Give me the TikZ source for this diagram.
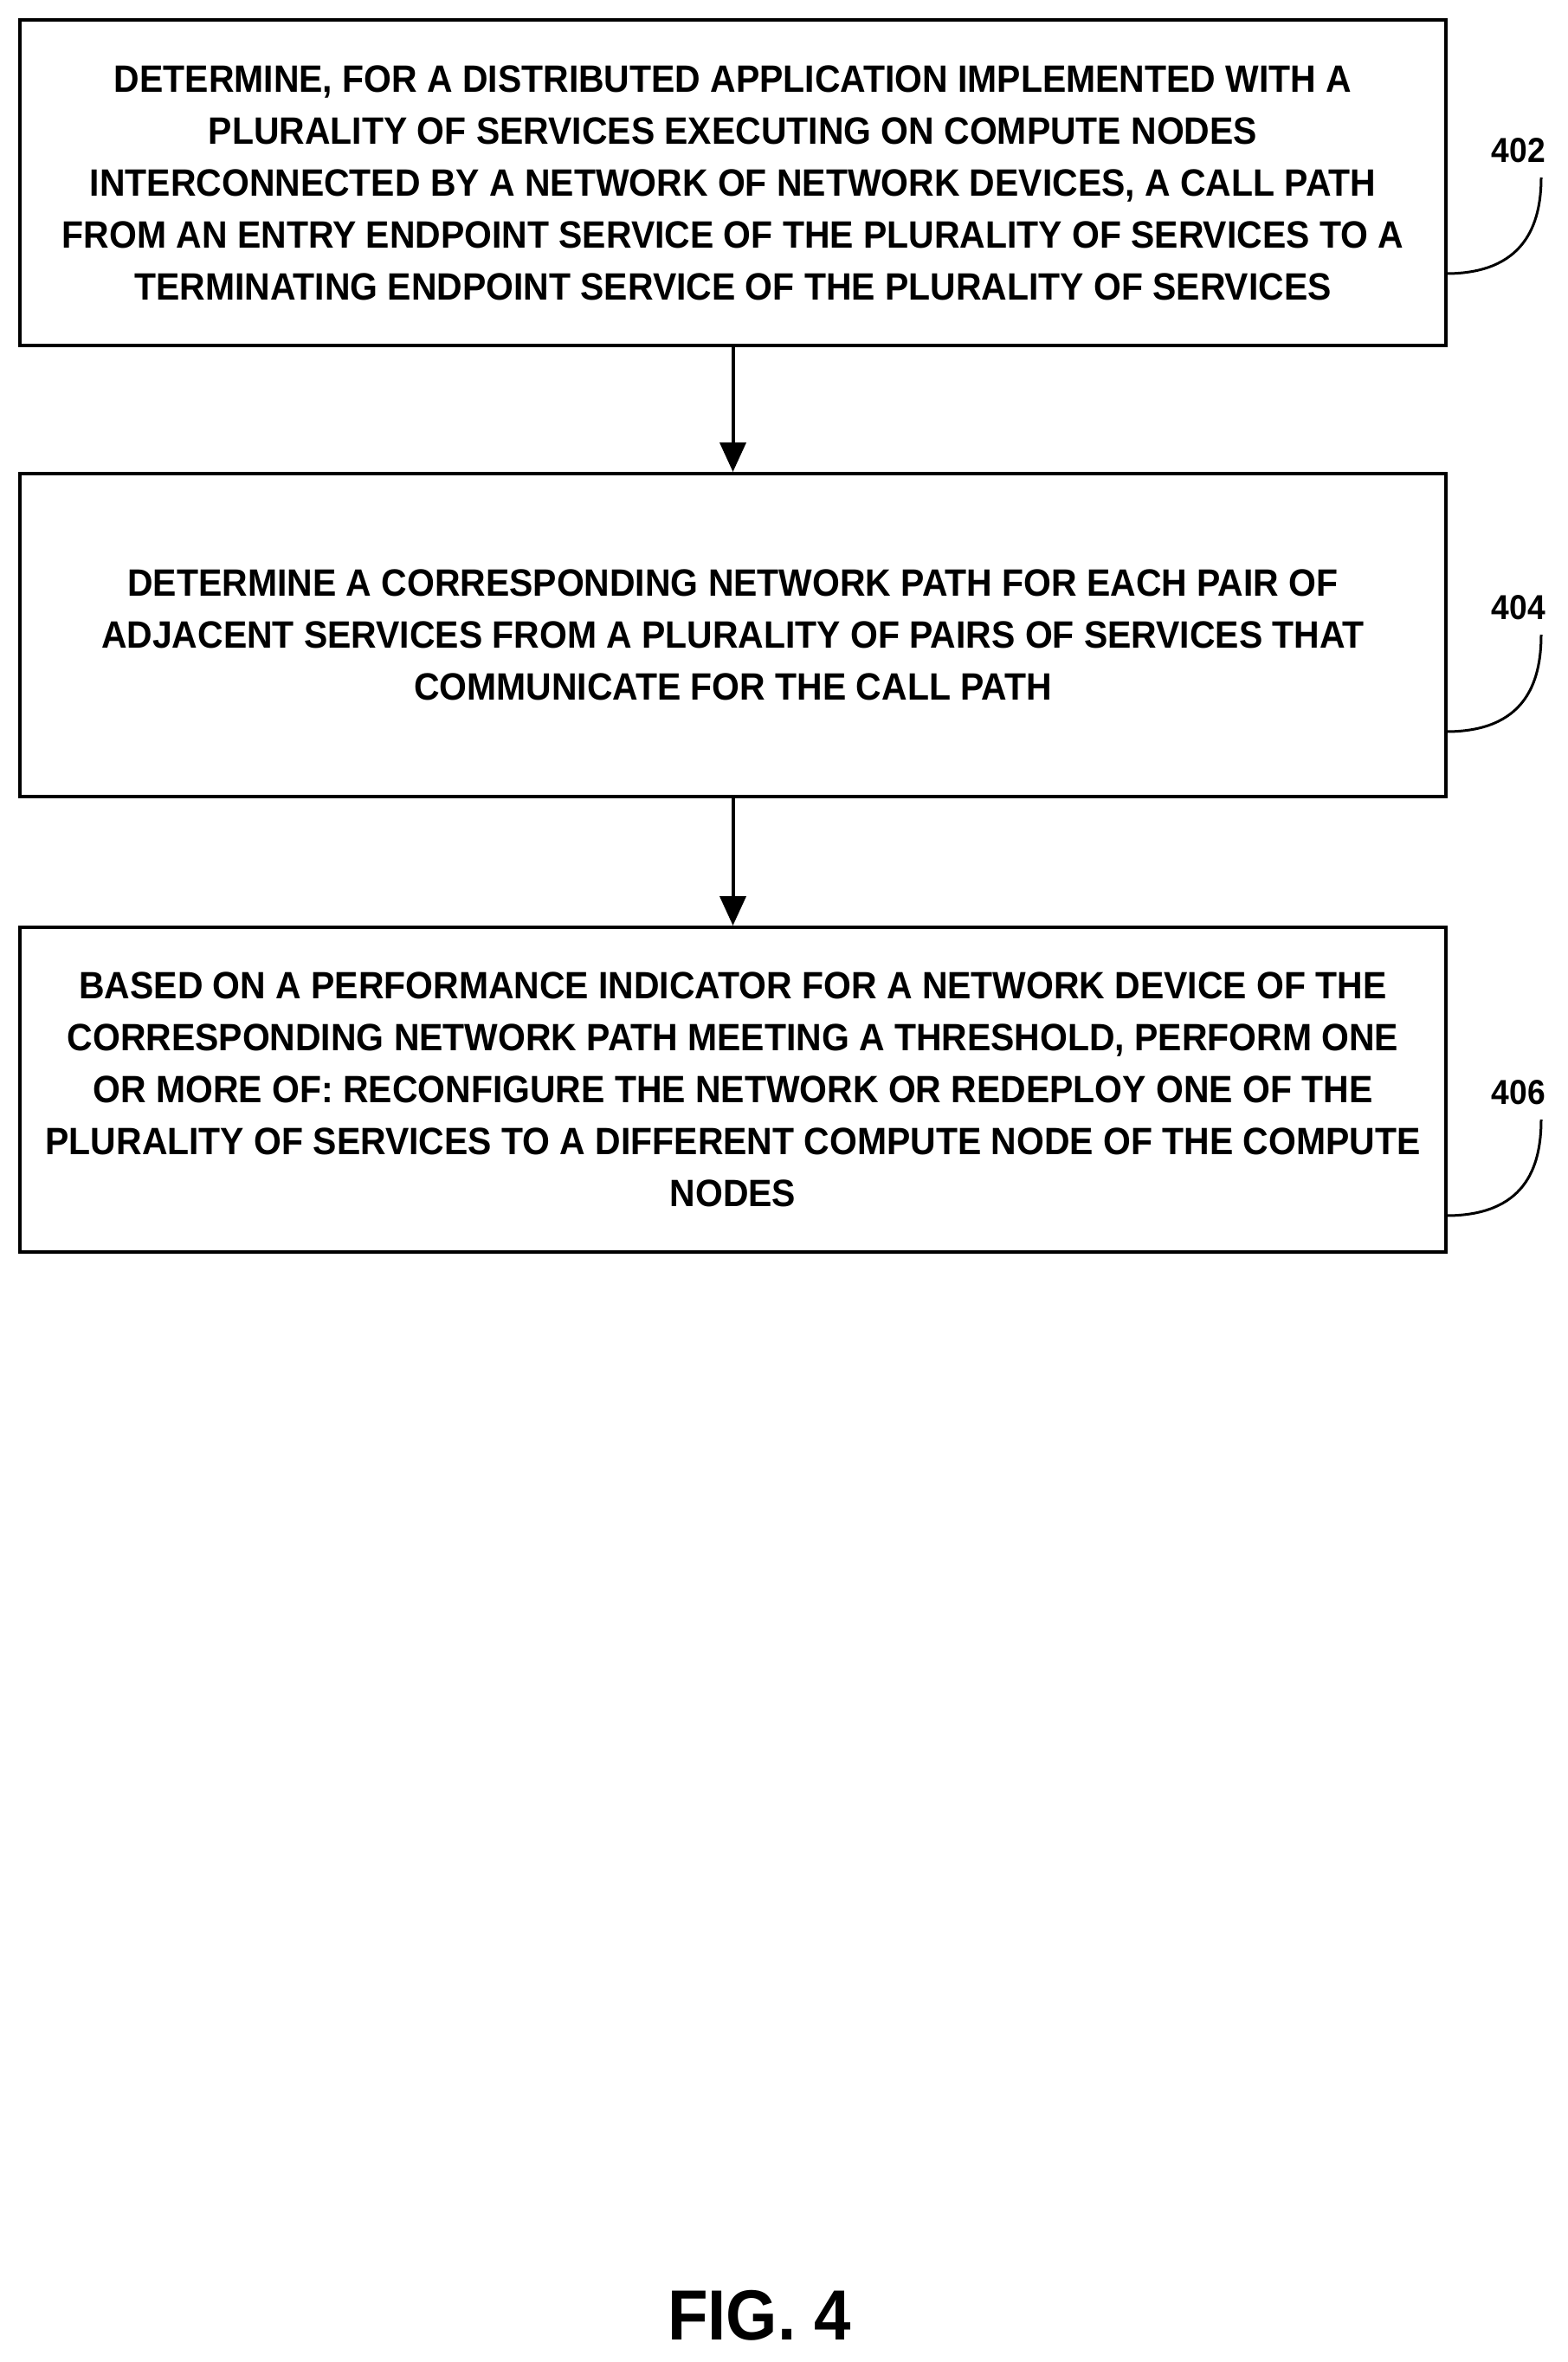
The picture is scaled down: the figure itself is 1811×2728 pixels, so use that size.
\documentclass[tikz,border=0pt]{standalone}
\usepackage{fontspec}
\setmainfont{Liberation Sans}[FakeStretch=0.93]
\usetikzlibrary{arrows.meta}
\begin{document}
\begin{tikzpicture}[x=1pt,y=-1pt,
  box/.style={draw,line width=4pt,minimum width=1647pt,inner sep=0pt,align=center,font=\fontsize{44}{60}\selectfont\bfseries},
  arr/.style={line width=4pt,-{Triangle[length=34pt,width=30pt]}},
  lbl/.style={font=\fontsize{40}{40}\selectfont\bfseries}]
\useasboundingbox (0,0) rectangle (1811,2728);
\node[box,minimum height=376pt] (b1) at (846.5,211) {DETERMINE, FOR A DISTRIBUTED APPLICATION IMPLEMENTED WITH A\\PLURALITY OF SERVICES EXECUTING ON COMPUTE NODES\\INTERCONNECTED BY A NETWORK OF NETWORK DEVICES, A CALL PATH\\FROM AN ENTRY ENDPOINT SERVICE OF THE PLURALITY OF SERVICES TO A\\TERMINATING ENDPOINT SERVICE OF THE PLURALITY OF SERVICES};
\node[box,minimum height=373pt] (b2) at (846.5,733.5) {DETERMINE A CORRESPONDING NETWORK PATH FOR EACH PAIR OF\\ADJACENT SERVICES FROM A PLURALITY OF PAIRS OF SERVICES THAT\\COMMUNICATE FOR THE CALL PATH};
\node[box,minimum height=375pt] (b3) at (846.5,1258.5) {BASED ON A PERFORMANCE INDICATOR FOR A NETWORK DEVICE OF THE\\CORRESPONDING NETWORK PATH MEETING A THRESHOLD, PERFORM ONE\\OR MORE OF: RECONFIGURE THE NETWORK OR REDEPLOY ONE OF THE\\PLURALITY OF SERVICES TO A DIFFERENT COMPUTE NODE OF THE COMPUTE\\NODES};
\draw[arr] (b1.south) -- (b2.north);
\draw[arr] (b2.south) -- (b3.north);
\node[lbl] (l1) at (1754,174) {402};
\node[lbl] (l2) at (1754,702) {404};
\node[lbl] (l3) at (1754,1262) {406};
\draw[line width=3pt] (1670,316) .. controls (1760,316) and (1780,260) .. (1780,205);
\draw[line width=3pt] (1670,845) .. controls (1760,845) and (1780,790) .. (1780,733);
\draw[line width=3pt] (1670,1404) .. controls (1760,1404) and (1780,1350) .. (1780,1293);
\node[font=\fontsize{82}{82}\selectfont\bfseries] (fig) at (877,2674) {FIG. 4};
\end{tikzpicture}
\end{document}
